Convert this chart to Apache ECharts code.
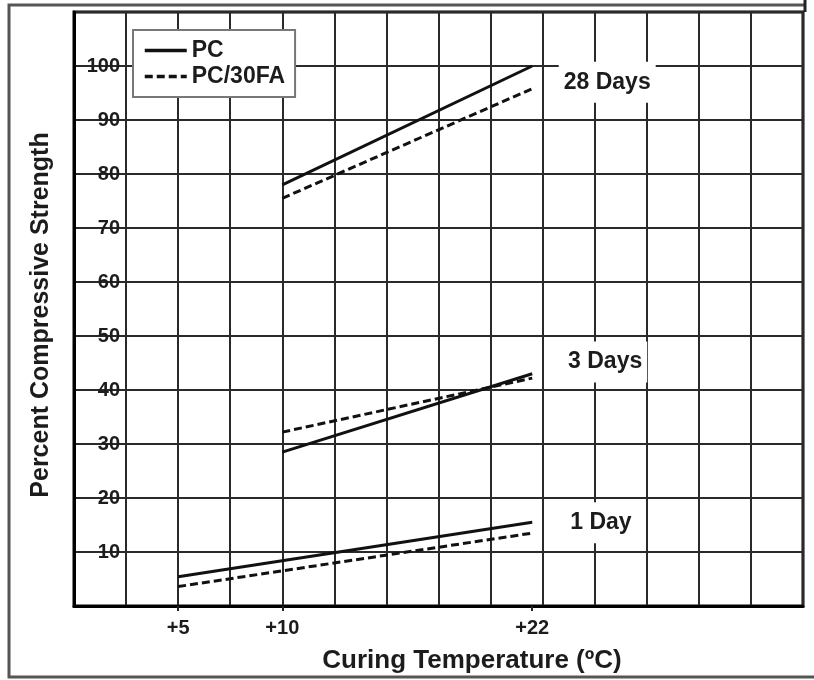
<!DOCTYPE html>
<html><head><meta charset="utf-8">
<script src="https://cdn.jsdelivr.net/npm/echarts@6/dist/echarts.min.js"></script>
<style>html,body{margin:0;padding:0;background:#fff}#c{width:814px;height:680px}</style>
</head><body><div id="c"></div>
<script>
// ---- data ----
const seriesNames = ['PC', 'PC/30FA'];
const ageLabels = ['28 Days', '3 Days', '1 Day'];
const startTemp = [10, 10, 5];
const endTemp = [22, 22, 22];
const pcStart = [78, 28.5, 5.4];
const pcEnd = [100, 43, 15.5];
const faStart = [75.5, 32.2, 3.6];
const faEnd = [95.8, 42.2, 13.5];
const xTickValues = [5, 10, 22];
const yTickValues = [10, 20, 30, 40, 50, 60, 70, 80, 90, 100];

// ---- chart ----
const FONT = '"Liberation Sans", Arial, sans-serif';
const INK = '#111';
const TXT = '#1c1c1c';
const labelAnchorX = [25.6, 25.5, 25.3];
const labelAnchorY = [97, 45.2, 15.4];

const series = [];
for (let i = 0; i < ageLabels.length; i++) {
  series.push({
    type: 'line', name: seriesNames[0], xAxisIndex: 0, yAxisIndex: 0,
    data: [[startTemp[i], pcStart[i]], [endTemp[i], pcEnd[i]]],
    symbol: 'none', silent: true, z: 3,
    itemStyle: { color: INK },
    lineStyle: { color: INK, width: 3, type: 'solid' }
  });
  series.push({
    type: 'line', name: seriesNames[1], xAxisIndex: 0, yAxisIndex: 0,
    data: [[startTemp[i], faStart[i]], [endTemp[i], faEnd[i]]],
    symbol: 'none', silent: true, z: 3,
    itemStyle: { color: INK },
    lineStyle: { color: INK, width: 3, type: [8, 4] }
  });
}
series.push({
  type: 'scatter', name: 'ages', xAxisIndex: 0, yAxisIndex: 0,
  symbolSize: 0, silent: true, z: 4,
  itemStyle: { color: TXT },
  data: ageLabels.map((t, i) => ({ name: t, value: [labelAnchorX[i], labelAnchorY[i]] })),
  label: {
    show: true, position: 'inside', formatter: '{b}',
    backgroundColor: '#fff', padding: [9, 5],
    fontFamily: FONT, fontSize: 23, fontWeight: 'bold', color: TXT,
    textBorderWidth: 0, opacity: 1
  }
});

const chart = echarts.init(document.getElementById('c'), null, { renderer: 'canvas' });
chart.setOption({
  animation: false,
  backgroundColor: '#fff',
  grid: {
    left: 74, right: 11, top: 12, bottom: 74,
    show: true, borderColor: '#000', borderWidth: 3,
    containLabel: false, outerBoundsMode: 'none'
  },
  legend: {
    show: true, orient: 'vertical',
    data: seriesNames,
    itemStyle: { color: 'rgba(0,0,0,0)', borderWidth: 0, opacity: 0 },
    lineStyle: { width: 3.5, color: INK },
    left: 133, top: 30, itemWidth: 42, itemHeight: 14, itemGap: 3,
    padding: [9, 10, 9, 10],
    backgroundColor: '#fff', borderColor: '#777', borderWidth: 2,
    textStyle: { fontFamily: FONT, fontSize: 23, fontWeight: 'bold', color: TXT },
    selectedMode: false
  },
  xAxis: [
    {
      type: 'value', min: 0, max: 35, interval: 2.5, position: 'bottom',
      axisLine: { show: true, onZero: false, lineStyle: { color: '#000', width: 3 } },
      axisTick: { show: false }, axisLabel: { show: false },
      splitLine: { show: true, lineStyle: { color: '#2a2a2a', width: 2 } }
    },
    {
      type: 'value', min: 0, max: 35, position: 'bottom',
      axisLine: { show: false }, splitLine: { show: false },
      axisTick: { show: true, customValues: xTickValues, length: 5, lineStyle: { color: '#222', width: 2 } },
      axisLabel: {
        customValues: xTickValues, formatter: v => '+' + v, margin: 12,
        fontFamily: FONT, fontSize: 20, fontWeight: 'bold', color: TXT
      }
    }
  ],
  yAxis: {
    type: 'value', min: 0, max: 110, interval: 10,
    axisLine: { show: true, onZero: false, lineStyle: { color: '#000', width: 3 } },
    axisTick: { show: false },
    splitLine: { show: true, lineStyle: { color: '#2a2a2a', width: 2 } },
    axisLabel: {
      inside: true, align: 'right', margin: 46, verticalAlign: 'middle', padding: [0, 0, 21, 0],
      formatter: v => (yTickValues.indexOf(v) >= 0 ? String(v) : ''),
      fontFamily: FONT, fontSize: 20, fontWeight: 'bold', color: TXT
    }
  },
  graphic: [
    { type: 'polyline', silent: true, shape: { points: [[806, 5], [9, 5], [9, 677], [814, 677]] },
      style: { stroke: '#555', lineWidth: 3, fill: null } },
    { type: 'line', silent: true, shape: { x1: 805, y1: 0, x2: 805, y2: 12 },
      style: { stroke: '#222', lineWidth: 3 } },
    { type: 'text', silent: true, x: 472, y: 661,
      style: { text: 'Curing Temperature (ºC)', align: 'center', verticalAlign: 'middle',
        font: 'bold 26px ' + FONT, fill: TXT } },
    { type: 'text', silent: true, x: 41, y: 315, rotation: Math.PI / 2,
      style: { text: 'Percent Compressive Strength', align: 'center', verticalAlign: 'middle',
        font: 'bold 25px ' + FONT, fill: TXT } }
  ],
  series: series
});
</script>
</body></html>
